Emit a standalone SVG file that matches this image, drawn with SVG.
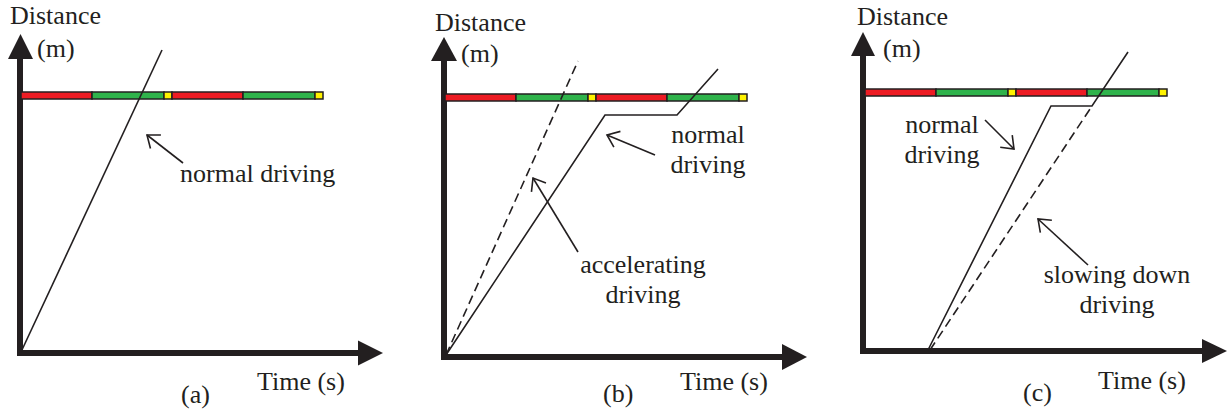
<svg xmlns="http://www.w3.org/2000/svg" width="1232" height="412" viewBox="0 0 1232 412">
<defs>
<marker id="open" markerUnits="userSpaceOnUse" markerWidth="30" markerHeight="30" viewBox="-15 -15 30 30" refX="0" refY="0" orient="auto">
<path d="M-11,-8.5 L0,0 L-11,8.5" fill="none" stroke="#231f20" stroke-width="1.6"/>
</marker>
<g id="bar" stroke="#231f20" stroke-width="1.5">
<rect fill="#ed1c24" x="0" y="0" width="71" height="7"/>
<rect fill="#2fb34b" x="71" y="0" width="72" height="7"/>
<rect fill="#fff200" x="143" y="0" width="8" height="7"/>
<rect fill="#ed1c24" x="151" y="0" width="71" height="7"/>
<rect fill="#2fb34b" x="222" y="0" width="72" height="7"/>
<rect fill="#fff200" x="294" y="0" width="8" height="7"/>
</g>
</defs>
<rect width="1232" height="412" fill="#fff"/>

<!-- Panel (a) -->
<g id="panel-a">
<g id="a-axes" stroke="#231f20" stroke-width="6" fill="#231f20">
<line x1="20" y1="356" x2="20" y2="57"/>
<polygon stroke="none" points="20.5,34 8,59 33,59"/>
<line x1="17" y1="353" x2="360" y2="353"/>
<polygon stroke="none" points="383,353 358,340.5 358,365.5"/>
</g>
<use id="a-bar" href="#bar" x="21" y="92"/>
<g font-family="Liberation Serif" font-size="26" fill="#231f20">
<text x="10" y="24">Distance</text>
<text x="37" y="57">(m)</text>
<text x="257" y="390">Time (s)</text>
<text x="181" y="403">(a)</text>
<g id="a-normal"><text x="180" y="182">normal driving</text></g>
</g>
</g>

<!-- Panel (b) -->
<g id="panel-b">
<g id="b-axes" stroke="#231f20" stroke-width="6" fill="#231f20">
<line x1="444" y1="360" x2="444" y2="59"/>
<polygon stroke="none" points="444,37 431,61 457,61"/>
<line x1="441" y1="357" x2="784" y2="357"/>
<polygon stroke="none" points="807,357 782,344 782,370"/>
</g>
<use id="b-bar" href="#bar" x="445" y="94"/>
<g font-family="Liberation Serif" font-size="26" fill="#231f20">
<text x="435" y="31">Distance</text>
<text x="461" y="62">(m)</text>
<text x="680" y="390">Time (s)</text>
<text x="603" y="402">(b)</text>
<g id="b-normal" text-anchor="middle"><text x="708" y="143">normal</text><text x="708" y="173">driving</text></g>
<g id="b-accel" text-anchor="middle"><text x="643" y="273">accelerating</text><text x="643" y="303">driving</text></g>
</g>
</g>

<!-- Panel (c) -->
<g id="panel-c">
<g id="c-axes" stroke="#231f20" stroke-width="6" fill="#231f20">
<line x1="863" y1="354" x2="863" y2="54"/>
<polygon stroke="none" points="863,32 851,56 875,56"/>
<line x1="860" y1="351" x2="1204" y2="351"/>
<polygon stroke="none" points="1227,351 1202,339 1202,363"/>
</g>
<use id="c-bar" href="#bar" x="865" y="89"/>
<g font-family="Liberation Serif" font-size="26" fill="#231f20">
<text x="857" y="25">Distance</text>
<text x="883" y="57">(m)</text>
<text x="1098" y="389">Time (s)</text>
<text x="1023" y="401">(c)</text>
<g id="c-normal" text-anchor="middle"><text x="942" y="133">normal</text><text x="942" y="163">driving</text></g>
<g id="c-slow" text-anchor="middle"><text x="1117" y="283">slowing down</text><text x="1117" y="313">driving</text></g>
</g>
</g>

<!-- Connectors: curves and annotation arrows -->
<g id="connectors" stroke="#231f20" stroke-width="1.6" fill="none">
<polyline points="21,352 162,50"/>
<polyline stroke-dasharray="9 5" points="446,355 578,61"/>
<polyline points="446,355 605,115 677,115 718,69"/>
<polyline points="928,350 1051,106 1092,106 1128,52"/>
<polyline stroke-dasharray="9 5" points="930,350 1092,106"/>
<g marker-end="url(#open)">
<line x1="183" y1="163" x2="147" y2="135"/>
<line x1="655" y1="155" x2="607" y2="135"/>
<line x1="578" y1="252" x2="533" y2="178"/>
<line x1="985" y1="120" x2="1014" y2="149"/>
<line x1="1088" y1="265" x2="1038" y2="219"/>
</g>
</g>
</svg>
